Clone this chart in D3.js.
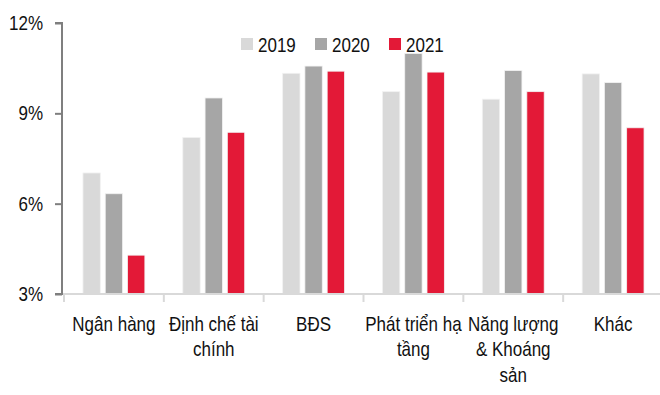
<!DOCTYPE html>
<html>
<head>
<meta charset="utf-8">
<script src="https://cdn.jsdelivr.net/npm/d3@7"></script>
<style>
  body { margin: 0; background: #fff; }
  svg { display: block; font-family: "Liberation Sans Narrow", "Arial Narrow", "Liberation Sans", Arial, sans-serif; }
</style>
</head>
<body>
<svg width="660" height="395"></svg>
<script>
const categories = ['Ngân hàng', 'Định chế tài chính', 'BĐS', 'Phát triển hạ tầng', 'Năng lượng & Khoáng sản', 'Khác']
const years = ['2019', '2020', '2021']
const v2019 = [7.02, 8.20, 10.33, 9.72, 9.47, 10.31]
const v2020 = [6.33, 9.51, 10.57, 10.99, 10.42, 10.02]
const v2021 = [4.29, 8.37, 10.40, 10.37, 9.72, 8.52]
const y_ticks = [3, 6, 9, 12]

const colors = ['#d9d9d9', '#a6a6a6', '#e31937']
const series = [v2019, v2020, v2021]

// no narrow font installed, so squeeze the regular one
const squeeze = 0.85

const svg = d3.select('svg')

const x_scale = d3.scaleBand()
    .domain(categories)
    .range([64, 663])

const x_inner = d3.scaleBand()
    .domain(years)
    .range([19, 81])
    .paddingInner(0.22)

const y_scale = d3.scaleLinear()
    .domain([3, 12])
    .range([294, 23])

// bars
const table = []
categories.forEach((c, i) => {
    years.forEach((yr, j) => {
        table.push({ cat: c, year: yr, value: series[j][i], color: colors[j] })
    })
})

svg.append('g').selectAll('rect').data(table)
    .enter().append('rect')
    .attr('x', d => x_scale(d.cat) + x_scale.bandwidth() * x_inner(d.year) / 100)
    .attr('width', x_scale.bandwidth() * x_inner.bandwidth() / 100)
    .attr('y', d => y_scale(d.value))
    .attr('height', d => y_scale(3) - y_scale(d.value))
    .attr('fill', d => d.color)
    .attr('stroke', '#f2f2f2')
    .attr('stroke-width', 0.8)

// x axis
const x_axis = svg.append('g')
    .attr('transform', `translate(0,${y_scale(3)})`)
x_axis.append('line')
    .attr('x1', 62).attr('x2', 660)
    .attr('stroke', '#d9d9d9').attr('stroke-width', 2)
x_axis.selectAll('line.tick').data(categories)
    .enter().append('line')
    .attr('class', 'tick')
    .attr('x1', d => x_scale(d)).attr('x2', d => x_scale(d))
    .attr('y1', 0).attr('y2', 8)
    .attr('stroke', '#d9d9d9').attr('stroke-width', 2)

const labels = x_axis.selectAll('text').data(categories)
    .enter().append('text')
    .attr('transform', d => `translate(${x_scale(d) + x_scale.bandwidth() / 2},37) scale(${squeeze},1)`)
    .attr('text-anchor', 'middle')
    .attr('font-size', 20)
    .attr('fill', '#111')
    .text(d => d)

// wrap labels to the band width
const wrap = (sel, w) => {
    sel.each(function () {
        const t = d3.select(this)
        const words = t.text().split(' ')
        t.text(null)
        let line = []
        let tspan = t.append('tspan').attr('x', 0).attr('dy', 0)
        words.forEach(word => {
            line.push(word)
            tspan.text(line.join(' '))
            if (tspan.node().getComputedTextLength() * squeeze > w && line.length > 1) {
                line.pop()
                tspan.text(line.join(' '))
                line = [word]
                tspan = t.append('tspan').attr('x', 0).attr('dy', 25.5).text(word)
            }
        })
    })
}
labels.call(wrap, 100)

// y axis
const y_axis = svg.append('g')
    .attr('transform', 'translate(62,0)')
    .call(d3.axisLeft(y_scale).tickValues(y_ticks).tickSize(7).tickFormat(d => d + '%'))
y_axis.attr('font-family', null)
y_axis.select('.domain').attr('stroke', '#7f7f7f').attr('stroke-width', 2)
    .attr('d', `M-7,${y_scale(12)}H0V${y_scale(3)}H-7`)
y_axis.selectAll('.tick line').attr('stroke', '#7f7f7f').attr('stroke-width', 2)
y_axis.selectAll('.tick text')
    .attr('font-size', 20).attr('fill', '#111')
    .attr('x', 0)
    .attr('transform', `translate(-19,0) scale(${squeeze},1)`)

// legend
const legend = svg.append('g').attr('transform', 'translate(241,44)')
const item = legend.selectAll('g').data(years)
    .enter().append('g')
    .attr('transform', (d, i) => `translate(${i * 74},0)`)
item.append('rect')
    .attr('x', 0).attr('y', -6)
    .attr('width', 12).attr('height', 12)
    .attr('fill', (d, i) => colors[i])
item.append('text')
    .attr('transform', `translate(17,7.5) scale(${squeeze},1)`)
    .attr('font-size', 20).attr('fill', '#111')
    .text(d => d)
</script>
</body>
</html>
